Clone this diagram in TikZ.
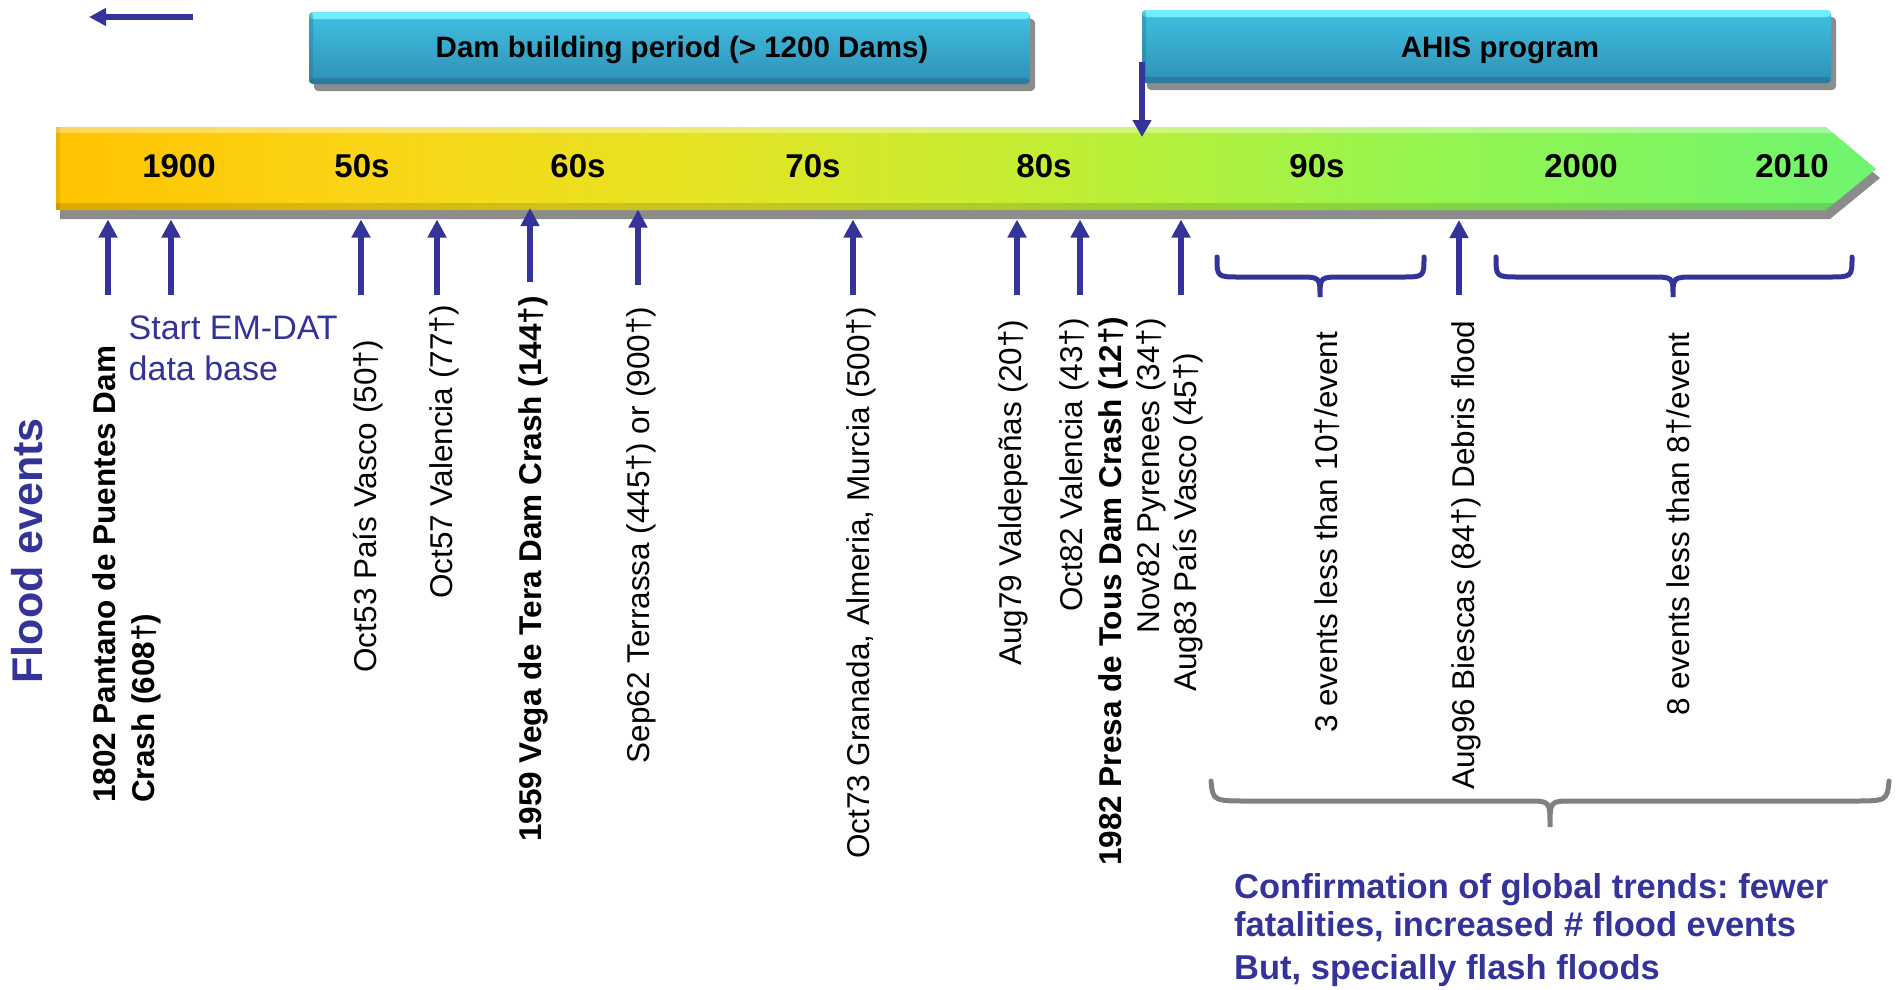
\documentclass[tikz,border=0pt]{standalone}
\usepackage{fontspec}
\setmainfont{Liberation Sans}
\usetikzlibrary{arrows.meta,shadows}
\definecolor{evblue}{RGB}{51,51,153}
\definecolor{bc0}{RGB}{255,195,0}
\definecolor{bc1}{RGB}{250,213,22}
\definecolor{bc2}{RGB}{230,227,35}
\definecolor{bc3}{RGB}{192,238,52}
\definecolor{bc4}{RGB}{150,245,78}
\definecolor{bc5}{RGB}{110,245,110}
\definecolor{boxtop}{RGB}{66,192,226}
\definecolor{boxbot}{RGB}{45,145,182}
\definecolor{boxhi}{RGB}{110,238,255}
\definecolor{boxedge}{RGB}{40,110,140}
\definecolor{shadowgray}{RGB}{140,140,140}
\definecolor{bracegray}{RGB}{128,128,128}
\pgfdeclarehorizontalshading{barshade}{100bp}{color(0bp)=(bc0); color(25bp)=(bc0); color(33.5bp)=(bc1); color(42.5bp)=(bc2); color(52.5bp)=(bc3); color(62.5bp)=(bc4); color(75bp)=(bc5); color(100bp)=(bc5)}
\begin{document}
\begin{tikzpicture}[x=1pt,y=-1pt,
  evarrow/.style={draw=evblue,line width=6pt,-{Triangle[length=18pt,width=18pt]}},
  evlbl/.style={rotate=90,anchor=base west,inner sep=0pt,font=\fontsize{31.5}{38}\selectfont},
  evbold/.style={rotate=90,anchor=base west,inner sep=0pt,font=\fontsize{31.5}{38.5}\selectfont\bfseries},
  decade/.style={anchor=base,inner sep=0pt,font=\fontsize{33}{36}\selectfont\bfseries},
  boxlbl/.style={anchor=base,inner sep=0pt,font=\fontsize{29.5}{32}\selectfont\bfseries},
  periodbox/.style={rounded corners=4pt,top color=boxtop,bottom color=boxbot,draw=none,inner sep=0pt,
    drop shadow={shadow xshift=5pt,shadow yshift=-7pt,fill=shadowgray,opacity=1},
    path picture={
      \fill[boxhi] (path picture bounding box.north west) rectangle ([yshift=-7pt]path picture bounding box.north east);
      \fill[boxedge,opacity=.6] ([yshift=6pt]path picture bounding box.south west) rectangle (path picture bounding box.south east);
      \fill[boxedge,opacity=.35] (path picture bounding box.north west) rectangle ([xshift=4pt]path picture bounding box.south west);
    }},
  bluebrace/.style={draw=evblue,line width=5pt,line cap=round},
  graybrace/.style={draw=bracegray,line width=5pt,line cap=round},
]
\useasboundingbox (0,0) rectangle (1897,989);

% period boxes
\node[periodbox,minimum width=721pt,minimum height=72pt] (dambox) at (669.5,48) {};
\node[boxlbl] (damlbl) at (682,57) {Dam building period (> 1200 Dams)};
\node[periodbox,minimum width=689pt,minimum height=73pt] (ahisbox) at (1486.5,46.5) {};
\node[boxlbl] (ahislbl) at (1500,57) {AHIS program};

% back arrow
\coordinate (backS) at (193,17);
\coordinate (backE) at (89,17);
\draw[evblue,line width=5.5pt,-{Triangle[length=17pt,width=17pt]}] (backS) -- (backE);

% timeline bar
\fill[shadowgray,xshift=4pt,yshift=-9pt] (56,127) -- (1826,127) -- (1876,169) -- (1826,210) -- (56,210) -- cycle;
\shade[shading=barshade] (56,127) -- (1826,127) -- (1876,169) -- (1826,210) -- (56,210) -- cycle;
\begin{scope}
  \clip (56,127) -- (1826,127) -- (1876,169) -- (1826,210) -- (56,210) -- cycle;
  \fill[white,opacity=.35] (56,127) rectangle (1876,133);
  \fill[black,opacity=.13] (56,203) rectangle (1876,210);
  \fill[black,opacity=.08] (56,127) rectangle (60,210);
\end{scope}

% decades
\foreach \n/\x/\t in {d1900/179/1900, d50/362/50s, d60/578/60s, d70/813/70s, d80/1044/80s, d90/1317/90s, d2000/1581/2000, d2010/1792/2010}
  \node[decade] (\n) at (\x,177) {\t};

% AHIS start arrow
\coordinate (ahisS) at (1142,62);
\coordinate (ahisE) at (1142,137);
\draw[evblue,line width=5.5pt,-{Triangle[length=17pt,width=18pt]}] (ahisS) -- (ahisE);

% event arrows
\foreach \n/\x/\yb/\yt in {a1/108/294.5/219.5, a2/171/294.5/219.5, a3/361/294.5/219.5, a4/437/294.5/219.5, a5/530/281.5/208, a6/638/285/209.5, a7/853/294.5/219.5, a8/1017/294.5/219.5, a9/1080/294.5/219.5, a10/1181/294.5/219.5, a11/1459/294.5/220}{
  \coordinate (\n-bot) at (\x,\yb);
  \coordinate (\n-tip) at (\x,\yt);
  \draw[evarrow] (\n-bot) -- (\n-tip);
}

% braces
\draw[bluebrace] (1217,257) .. controls (1217,277) .. (1240,277) -- (1298,277) .. controls (1320,277) .. (1320,297) .. controls (1320,277) .. (1342,277) -- (1401,277) .. controls (1424,277) .. (1424,257);
\draw[bluebrace] (1496,257) .. controls (1496,277) .. (1520,277) -- (1651,277) .. controls (1673,277) .. (1673,297) .. controls (1673,277) .. (1695,277) -- (1828,277) .. controls (1852,277) .. (1852,257);
\draw[graybrace] (1211,781) .. controls (1213,801) .. (1250,801) -- (1528,801) .. controls (1550,801) .. (1550,827) .. controls (1550,801) .. (1572,801) -- (1851,801) .. controls (1887,801) .. (1889,781);

% labels
\node[rotate=90,anchor=base west,inner sep=0pt,text=evblue,font=\fontsize{43}{48}\selectfont\bfseries] (flood) at (42,683.5) {Flood events};
\node[evbold,align=left] (l1802) at (154,803) {1802 Pantano de Puentes Dam\\Crash (608†)};
\node[anchor=base west,inner sep=0pt,align=left,text=evblue,font=\fontsize{34}{40.4}\selectfont] (emdat) at (128.5,380) {Start EM-DAT\\data base};
\node[evlbl] (oct53) at (376.5,672.7) {Oct53 País Vasco (50†)};
\node[evlbl] (oct57) at (452,599) {Oct57 Valencia (77†)};
\node[evbold] (vega) at (541,842) {1959 Vega de Tera Dam Crash (144†)};
\node[evlbl] (sep62) at (649.5,763.7) {Sep62 Terrassa (445†) or (900†)};
\node[evlbl] (oct73) at (869,859) {Oct73 Granada, Almeria, Murcia (500†)};
\node[evlbl] (aug79) at (1021,666) {Aug79 Valdepeñas (20†)};
\node[evlbl] (oct82) at (1082,612) {Oct82 Valencia (43†)};
\node[evbold] (tous) at (1121,866) {1982 Presa de Tous Dam Crash (12†)};
\node[evlbl] (nov82) at (1159,633.7) {Nov82 Pyrenees (34†)};
\node[evlbl] (aug83) at (1196,692) {Aug83 País Vasco (45†)};
\node[evlbl] (ev3) at (1337,733) {3 events less than 10†/event};
\node[evlbl] (aug96) at (1474.5,790) {Aug96 Biescas (84†) Debris flood};
\node[evlbl] (ev8) at (1689,716) {8 events less than 8†/event};
\node[anchor=base west,inner sep=0pt,align=left,text=evblue,font=\fontsize{34.5}{38}\selectfont\bfseries\frenchspacing] (concl) at (1234,979) {Confirmation of global trends: fewer\\fatalities, increased \# flood events\\[5pt]But, specially flash floods};
\end{tikzpicture}
\end{document}
